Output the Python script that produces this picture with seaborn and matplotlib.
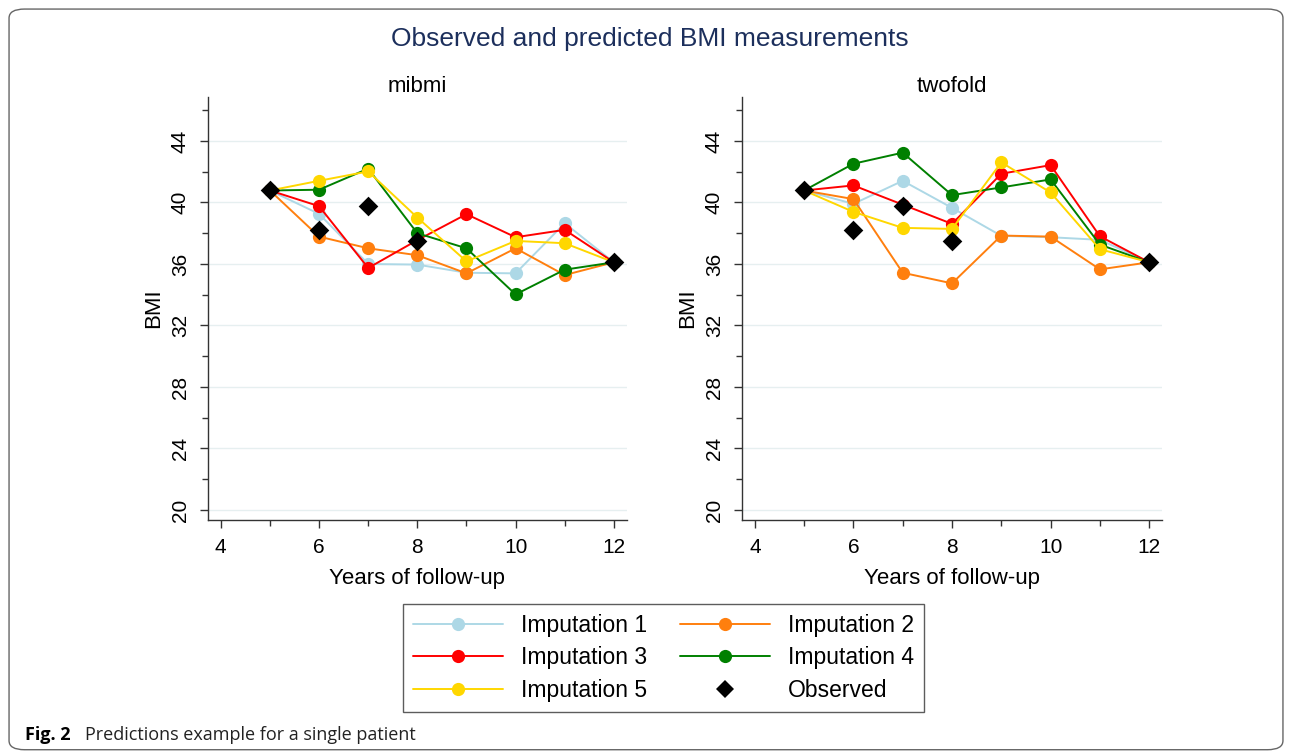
import numpy as np
import pandas as pd
import matplotlib
matplotlib.use("Agg")
import matplotlib.pyplot as plt
from matplotlib.lines import Line2D
from matplotlib.patches import FancyBboxPatch
import seaborn as sns

years = [5, 6, 7, 8, 9, 10, 11, 12]
obs_years = [5, 6, 7, 8, 12]
observed = [40.78, 38.22, 39.78, 37.52, 36.11]

mibmi = {
    "Imputation 1": [40.78, 39.26, 36.0, 35.96, 35.43, 35.39, 38.65, 36.11],
    "Imputation 2": [40.78, 37.78, 37.02, 36.57, 35.39, 37.02, 35.28, 36.11],
    "Imputation 3": [40.78, 39.76, 35.74, 37.55, 39.24, 37.74, 38.22, 36.11],
    "Imputation 4": [40.78, 40.83, 42.2, 38.0, 37.02, 34.02, 35.63, 36.11],
    "Imputation 5": [40.78, 41.41, 42.02, 39.02, 36.17, 37.5, 37.35, 36.11],
}
twofold = {
    "Imputation 1": [40.78, 39.91, 41.41, 39.65, 37.83, 37.74, 37.57, 36.11],
    "Imputation 2": [40.78, 40.22, 35.43, 34.74, 37.85, 37.78, 35.65, 36.11],
    "Imputation 3": [40.78, 41.11, 39.86, 38.61, 41.87, 42.43, 37.8, 36.11],
    "Imputation 4": [40.78, 42.52, 43.24, 40.48, 40.98, 41.5, 37.26, 36.11],
    "Imputation 5": [40.78, 39.39, 38.35, 38.28, 42.61, 40.65, 36.96, 36.11],
}
imputations = ["Imputation 1", "Imputation 2", "Imputation 3", "Imputation 4", "Imputation 5"]
colors = ["#add8e6", "#ff7f0e", "#ff0000", "#008000", "#ffd700"]
panel_titles = ["mibmi", "twofold"]
y_ticks = [20, 24, 28, 32, 36, 40, 44]
x_ticks = [4, 6, 8, 10, 12]

sns.set_theme(style="white")
plt.rcParams["font.family"] = ["Liberation Sans", "DejaVu Sans"]
plt.rcParams["text.color"] = "black"
plt.rcParams["axes.labelcolor"] = "black"
plt.rcParams["xtick.color"] = "black"
plt.rcParams["ytick.color"] = "black"

fig = plt.figure(figsize=(12.92, 7.55), dpi=100)

# outer rounded border
border = FancyBboxPatch((0.007, 0.007), 0.986, 0.981, boxstyle="round,pad=0,rounding_size=0.012",
                        transform=fig.transFigure, fill=False, edgecolor="#666666", linewidth=1.0)
fig.patches.append(border)

axes = [fig.add_axes([0.161, 0.3113, 0.324, 0.5602]),
        fig.add_axes([0.5743, 0.3113, 0.3251, 0.5602])]

palette = dict(zip(imputations, colors))
for ax, data, title in zip(axes, [mibmi, twofold], panel_titles):
    rows = []
    for imp in imputations:
        for yr, v in zip(years, data[imp]):
            rows.append({"year": yr, "bmi": v, "series": imp})
    df = pd.DataFrame(rows)
    sns.lineplot(data=df, x="year", y="bmi", hue="series", palette=palette,
                 marker="o", markersize=9.5, markeredgewidth=0, linewidth=1.4,
                 ax=ax, legend=False, zorder=3)
    dfo = pd.DataFrame({"year": obs_years, "bmi": observed})
    sns.scatterplot(data=dfo, x="year", y="bmi", marker="D", color="black", s=100,
                    edgecolor="black", linewidth=0, ax=ax, zorder=5, legend=False)
    ax.set_xlim(3.74, 12.26)
    ax.set_ylim(19.35, 46.86)
    ax.set_yticks(y_ticks)
    ax.set_yticks([22, 26, 30, 34, 38, 42, 46], minor=True)
    ax.set_xticks(x_ticks)
    ax.set_xticks([5, 7, 9, 11], minor=True)
    ax.set_yticklabels([str(t) for t in y_ticks], rotation=90, va="center", fontsize=15)
    ax.set_xticklabels([str(t) for t in x_ticks], fontsize=15)
    ax.tick_params(axis="both", which="major", direction="out", length=6, width=1,
                   color="#333333", left=True, bottom=True, pad=7)
    ax.tick_params(axis="both", which="minor", direction="out", length=4, width=1,
                   color="#333333", left=True, bottom=True)
    ax.grid(axis="y", which="major", color="#e6eff0", linewidth=1.0, zorder=0)
    ax.grid(axis="x", visible=False)
    for s in ["top", "right"]:
        ax.spines[s].set_visible(False)
    for s in ["left", "bottom"]:
        ax.spines[s].set_color("#333333")
        ax.spines[s].set_linewidth(1.0)
    ax.set_xlabel("Years of follow-up", fontsize=16, labelpad=8)
    ax.set_ylabel("BMI", fontsize=16, labelpad=5)
    ax.set_title(title, fontsize=16, pad=-2)

fig.text(0.503, 0.949, "Observed and predicted BMI measurements", ha="center", va="center",
         fontsize=19, color="#1c2f5c")

handles = []
for imp, c in zip(imputations, colors):
    handles.append(Line2D([0], [0], color=c, linewidth=1.4, marker="o", markersize=9.5,
                          markeredgewidth=0, label=imp))
handles.append(Line2D([0], [0], color="none", marker="D", markersize=9.5,
                      markerfacecolor="black", markeredgewidth=0, label="Observed"))
order = [0, 2, 4, 1, 3, 5]
leg = fig.legend([handles[i] for i in order], [handles[i].get_label() for i in order],
                 ncol=2, loc="center", bbox_to_anchor=(0.5136, 0.1285), fontsize=16.5,
                 frameon=True, fancybox=False, edgecolor="#333333", handlelength=3.9,
                 handletextpad=0.8, columnspacing=1.45, labelspacing=0.4, borderpad=0.45)
leg.get_frame().set_linewidth(1.0)

fig.text(0.019, 0.027, "Fig. 2", fontsize=13, fontweight="bold", ha="left", va="center",
         family=["Open Sans", "DejaVu Sans"])
fig.text(0.066, 0.027, "Predictions example for a single patient", fontsize=13, ha="left",
         va="center", family=["Open Sans", "DejaVu Sans"], color="#222222")

fig.savefig("out.png", dpi=100)
